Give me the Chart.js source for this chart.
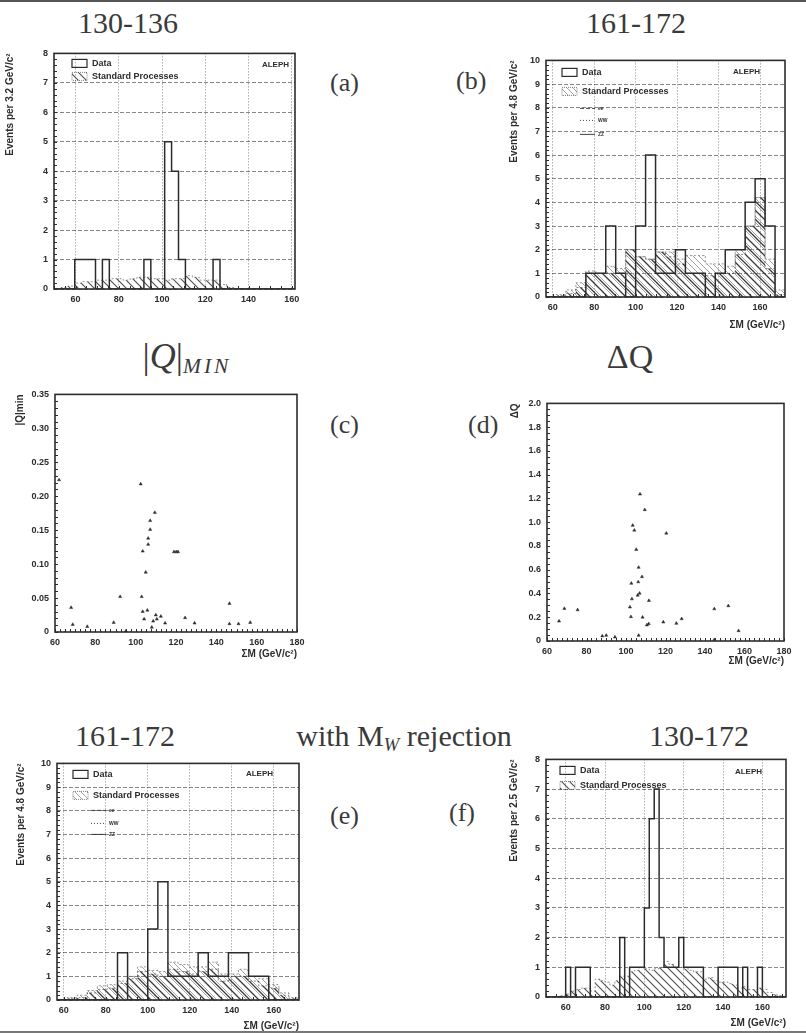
<!DOCTYPE html>
<html>
<head>
<meta charset="utf-8">
<script src="https://cdn.jsdelivr.net/npm/chart.js@4.4.0/dist/chart.umd.min.js"></script>
<style>
  body { margin: 0; width: 806px; height: 1034px; position: relative; overflow: hidden; background: #fff;
         font-family: "Liberation Serif", serif; color: #3a3a3a; }
  .t { position: absolute; font-size: 30px; line-height: 1; white-space: nowrap; transform: translateX(-50%); }
  .t i { font-style: italic; }
  .t sub { font-size: 0.62em; vertical-align: -0.25em; }
  .q { font-size: 34px; }
  .q.wide { font-size: 36px; }
  .q sub { letter-spacing: 3px; font-size: 0.6em; }
  .p { position: absolute; font-size: 26px; line-height: 1; white-space: nowrap; }
  canvas { position: absolute; }
  .rule { position: absolute; left: 0; width: 806px; background: #555; }
</style>
</head>
<body>
<div class="rule" style="top:0;height:2px"></div>
<div class="rule" style="top:1031px;height:2px;background:#777"></div>

<div class="t" style="left:128px;top:8px">130-136</div>
<div class="t" style="left:636px;top:8px">161-172</div>
<div class="t q wide" style="left:187px;top:338px">|<i>Q</i>|<sub><i>MIN</i></sub></div>
<div class="t q" style="left:630px;top:340px">ΔQ</div>
<div class="t" style="left:125px;top:721px">161-172</div>
<div class="t" style="left:404px;top:721px">with M<sub><i>W</i></sub> rejection</div>
<div class="t" style="left:699px;top:721px">130-172</div>

<div class="p" style="left:330px;top:70px">(a)</div>
<div class="p" style="left:456px;top:68px">(b)</div>
<div class="p" style="left:330px;top:412px">(c)</div>
<div class="p" style="left:468px;top:412px">(d)</div>
<div class="p" style="left:330px;top:803px">(e)</div>
<div class="p" style="left:449px;top:800px">(f)</div>

<script>
// ---------------- data ----------------
const massTicks = [60, 80, 100, 120, 140, 160];
const massTicksWide = [60, 80, 100, 120, 140, 160, 180];

// (a) 130-136 GeV, 3.2 GeV bins from 50
const binStartA = 50, binWidthA = 3.2;
const dataA = [0, 0, 0, 1, 1, 1, 0, 1, 0, 0, 0, 0, 0, 1, 0, 0, 5, 4, 1, 0, 0, 0, 0, 1, 0, 0, 0, 0, 0, 0, 0, 0, 0, 0, 0];
const smA   = [0, 0.05, 0.1, 0.2, 0.25, 0.25, 0.3, 0.3, 0.35, 0.35, 0.3, 0.35, 0.4, 0.4, 0.35, 0.35, 0.3, 0.35,
               0.35, 0.45, 0.4, 0.3, 0.3, 0.3, 0.15, 0.05, 0, 0, 0, 0, 0, 0, 0, 0, 0];
const yTicksA = [0, 1, 2, 3, 4, 5, 6, 7, 8];

// (b) 161-172 GeV, 4.8 GeV bins from 56.8
const binStartB = 56.8, binWidthB = 4.8;
const dataB = [0, 0, 0, 0, 1, 1, 3, 1, 0, 3, 6, 1, 1, 2, 1, 1, 0, 1, 2, 2, 4, 5, 3, 0];
const smB   = [0.02, 0.1, 0.3, 0.6, 1.1, 1.0, 1.3, 1.2, 2.0, 1.7, 1.6, 1.9, 1.9, 1.6, 1.75, 1.75, 1.4, 1.4,
               1.3, 2.0, 3.0, 4.2, 1.6, 0.3];
const compB = [0, 0.05, 0.15, 0.4, 1.0, 1.0, 1.0, 1.0, 2.0, 1.7, 1.6, 1.9, 1.7, 1.4, 1.0, 1.0, 0.9, 1.0,
               1.0, 1.8, 3.0, 4.2, 1.2, 0.1];
const yTicksB = [0, 1, 2, 3, 4, 5, 6, 7, 8, 9, 10];

// (c) |Q|min versus sum of masses
const qMass = [62, 102.5, 109.5, 107.2, 107.2, 106.2, 106.2, 103.5, 119, 120.1, 121, 105, 103, 92.3, 68, 68.8, 76,
               89.1, 95.1, 103.5, 105.8, 104.2, 108, 108.7, 110, 110.5, 112.5, 114.6, 124.5, 129.2, 146.5, 146.5,
               151, 156.8];
const qMin  = [0.224, 0.218, 0.176, 0.164, 0.151, 0.138, 0.129, 0.119, 0.118, 0.118, 0.118, 0.088, 0.052, 0.052,
               0.036, 0.011, 0.008, 0.014, 0.001, 0.030, 0.032, 0.019, 0.007, 0.016, 0.025, 0.019, 0.023, 0.013,
               0.021, 0.013, 0.042, 0.012, 0.012, 0.014];
const yTicksC = [0, 0.05, 0.1, 0.15, 0.2, 0.25, 0.3, 0.35];

// (d) delta Q versus sum of masses
const dqMass = [66.1, 68.8, 75.5, 88, 90, 94.4, 102, 102.7, 102.5, 103, 103.4, 104.2, 105.2, 106.4, 106.2, 105.9,
                106.9, 106.4, 107.1, 108.1, 108.4, 109.5, 110.6, 111.5, 111.6, 118.9, 120.4, 125.5, 128.2, 144.7,
                144.7, 151.8, 157];
const dqVal  = [0.167, 0.273, 0.262, 0.042, 0.047, 0.033, 0.285, 0.485, 0.204, 0.354, 0.973, 0.932, 0.77, 0.619,
                0.497, 0.385, 0.402, 0.047, 1.236, 0.541, 0.2, 1.105, 0.134, 0.145, 0.34, 0.159, 0.907, 0.148,
                0.187, 0.27, 0.011, 0.296, 0.086];
const yTicksD = [0, 0.2, 0.4, 0.6, 0.8, 1, 1.2, 1.4, 1.6, 1.8, 2];

// (e) 161-172 GeV with M_W rejection
const dataE = [0, 0, 0, 0, 0, 0, 2, 0, 0, 3, 5, 1, 1, 1, 2, 1, 1, 2, 2, 1, 1, 0, 0, 0];
const smE   = [0.02, 0.1, 0.2, 0.4, 0.6, 0.65, 0.8, 1.0, 1.4, 1.25, 1.2, 1.6, 1.5, 1.4, 1.4, 1.6, 1.1, 1.1,
               1.3, 1.0, 0.9, 0.65, 0.3, 0.1];
const compE = [0, 0.05, 0.1, 0.3, 0.45, 0.5, 0.7, 0.9, 1.2, 1.1, 1.0, 1.3, 1.2, 1.1, 1.2, 1.3, 0.8, 1.0,
               1.0, 0.8, 0.6, 0.5, 0.2, 0.05];

// (f) 130-172 GeV, 2.5 GeV bins from 50
const binStartF = 50, binWidthF = 2.5;
const dataF = [0, 0, 0, 0, 1, 0, 1, 1, 1, 0, 0, 0, 0, 0, 0, 2, 0, 1, 1, 1, 3, 6, 7, 2, 1, 1, 1, 2, 1, 1,
               1, 1, 0, 0, 0, 1, 1, 1, 1, 0, 1, 0, 0, 1, 0, 0, 0, 0, 0];
const smF   = [0, 0, 0.02, 0.05, 0.1, 0.2, 0.25, 0.3, 0.3, 0.2, 0.6, 0.55, 0.5, 0.4, 0.55, 0.7, 0.7, 0.85,
               0.9, 1.0, 0.95, 0.9, 0.95, 1.0, 1.2, 1.1, 1.0, 1.0, 0.95, 0.9, 0.85, 0.85, 0.6, 0.65, 0.55,
               0.5, 0.5, 0.45, 0.4, 0.3, 0.35, 0.25, 0.25, 0.3, 0.25, 0.15, 0.08, 0.05, 0.02];

// ---------------- drawing ----------------
const INK = '#2c2c2c';
const TICK_FONT = { family: 'Liberation Sans', size: 9, weight: 'bold' };
const TITLE_FONT = { family: 'Liberation Sans', size: 10, weight: 'bold' };
const PAD_T = 10, PAD_R = 14;

function hatch(step, color, width) {
  const c = document.createElement('canvas');
  c.width = step; c.height = step;
  const g = c.getContext('2d');
  g.strokeStyle = color; g.lineWidth = width;
  g.beginPath();
  g.moveTo(0, 0); g.lineTo(step, step);
  g.moveTo(-step / 2, step / 2); g.lineTo(step / 2, step * 1.5);
  g.moveTo(step / 2, -step / 2); g.lineTo(step * 1.5, step / 2);
  g.stroke();
  return g.createPattern(c, 'repeat');
}

// bin edges + contents -> points for a stepped outline
function histPoints(start, width, values) {
  const pts = [{ x: start, y: 0 }];
  values.forEach((v, i) => pts.push({ x: start + i * width, y: v }));
  pts.push({ x: start + values.length * width, y: 0 });
  return pts;
}

function place(area, yW, xH) {
  const c = document.createElement('canvas');
  const w = area.r - area.l + yW + PAD_R, h = area.b - area.t + PAD_T + xH;
  c.width = w; c.height = h;
  c.style.width = w + 'px'; c.style.height = h + 'px';
  c.style.left = (area.l - yW) + 'px';
  c.style.top = (area.t - PAD_T) + 'px';
  document.body.appendChild(c);
  return c;
}

function axis(min, max, ticks, size, isY, title, grid) {
  return {
    type: 'linear', min: min, max: max,
    afterBuildTicks: s => { s.ticks = ticks.map(v => ({ value: v })); },
    afterFit: s => { if (isY) s.width = size; else s.height = size; },
    ticks: { font: TICK_FONT, color: INK, padding: isY ? 6 : 5, maxRotation: 0, autoSkip: false },
    grid: grid ? { display: true, drawTicks: false, color: 'rgba(0,0,0,0.6)', lineWidth: 0.8 }
               : { display: false, drawTicks: false },
    border: { display: false, dash: grid ? (isY ? [4, 2] : [1, 2]) : [] },
    title: title ? { display: true, text: title, align: 'end', font: TITLE_FONT, color: INK,
                     padding: { top: 4, bottom: 0 } } : { display: false }
  };
}

// frame, inner ticks and the in-plot legend
const deco = {
  id: 'deco',
  afterDraw(chart, args, o) {
    const { ctx, chartArea: a, scales } = chart;
    ctx.save();
    ctx.strokeStyle = INK;
    ctx.lineWidth = 1;
    if (o.minorY) {
      for (let v = scales.y.min; v <= scales.y.max + 1e-9; v += o.minorY) {
        const py = Math.round(scales.y.getPixelForValue(v)) + 0.5;
        ctx.beginPath(); ctx.moveTo(a.left, py); ctx.lineTo(a.left + 3, py); ctx.stroke();
      }
    }
    if (o.minorX) {
      for (let v = Math.ceil(scales.x.min / o.minorX) * o.minorX; v <= scales.x.max; v += o.minorX) {
        const px = Math.round(scales.x.getPixelForValue(v)) + 0.5;
        ctx.beginPath(); ctx.moveTo(px, a.bottom); ctx.lineTo(px, a.bottom - 3); ctx.stroke();
      }
    }
    ctx.lineWidth = 1.6;
    ctx.strokeRect(a.left, a.top, a.width, a.height);

    const lg = o.legend;
    if (lg) {
      const sm = chart.data.datasets.find(d => d.label === 'Standard Processes');
      ctx.font = 'bold 9px "Liberation Sans"';
      ctx.fillStyle = INK;
      ctx.textBaseline = 'middle';
      const bx = a.left + lg.x;
      ctx.lineWidth = 1.2;
      ctx.strokeRect(bx, a.top + lg.y1 - 4, 15, 8);
      ctx.fillText('Data', bx + 20, a.top + lg.y1);
      ctx.fillStyle = sm.backgroundColor;
      ctx.fillRect(bx, a.top + lg.y2 - 4, 15, 8);
      ctx.lineWidth = 0.6; ctx.setLineDash([1, 1]);
      ctx.strokeRect(bx, a.top + lg.y2 - 4, 15, 8);
      ctx.setLineDash([]);
      ctx.fillStyle = INK;
      ctx.fillText('Standard Processes', bx + 20, a.top + lg.y2);
      if (lg.lines) {
        const names = ['ee', 'WW', 'ZZ'], dashes = [[4, 2], [1, 2], []];
        ctx.font = 'bold 5px "Liberation Sans"';
        lg.lines.forEach((ly, i) => {
          ctx.setLineDash(dashes[i]); ctx.lineWidth = 0.9;
          ctx.beginPath(); ctx.moveTo(bx + 18, a.top + ly); ctx.lineTo(bx + 33, a.top + ly); ctx.stroke();
          ctx.fillText(names[i], bx + 36, a.top + ly);
        });
        ctx.setLineDash([]);
      }
      ctx.font = 'bold 8px "Liberation Sans"';
      ctx.textAlign = 'right';
      ctx.fillText('ALEPH', a.right - lg.ax, a.top + lg.ay);
    }
    ctx.restore();
  }
};

const common = {
  responsive: false, animation: false, devicePixelRatio: 1,
  layout: { padding: { top: PAD_T, right: PAD_R, left: 0, bottom: 0 } },
  elements: { point: { radius: 0 }, line: { tension: 0 } },
  events: []
};

function histChart(area, yW, xH, p) {
  const canvas = place(area, yW, xH);
  const datasets = [{
    label: 'Data', data: histPoints(p.start, p.width, p.data), stepped: true,
    borderColor: INK, borderWidth: 1.5, fill: false
  }];
  if (p.comp) {
    datasets.push({
      label: 'ZZ', data: histPoints(p.start, p.width, p.comp), stepped: true,
      borderColor: 'rgba(60,60,60,0.8)', borderWidth: 0.8, borderDash: [2, 2],
      backgroundColor: hatch(9, '#3a3a3a', 1.3), fill: 'origin'
    });
  }
  datasets.push({
    label: 'Standard Processes', data: histPoints(p.start, p.width, p.sm), stepped: true,
    borderColor: 'rgba(90,90,90,0.8)', borderWidth: 0.8, borderDash: [2, 2],
    backgroundColor: hatch(p.comp ? 6 : 8, p.comp ? '#9a9a9a' : '#505050', p.comp ? 0.9 : 1.1), fill: 'origin'
  });
  new Chart(canvas, {
    type: 'line',
    data: { datasets: datasets },
    options: Object.assign({}, common, {
      plugins: { legend: { display: false }, tooltip: { enabled: false },
                 deco: { minorX: 5, minorY: 0.2, legend: p.legend } },
      scales: {
        x: axis(p.xmin, p.xmax, massTicks, xH, false, p.xTitle, true),
        y: axis(0, p.ymax, p.yTicks, yW, true, p.yTitle, true)
      }
    }),
    plugins: [deco]
  });
}

function scatterChart(area, yW, xH, p) {
  const canvas = place(area, yW, xH);
  new Chart(canvas, {
    type: 'scatter',
    data: { datasets: [{
      label: p.yTitle, data: p.xs.map((x, i) => ({ x: x, y: p.ys[i] })),
      pointStyle: 'triangle', pointRadius: 1.8, backgroundColor: INK, borderColor: INK, borderWidth: 0.5
    }] },
    options: Object.assign({}, common, {
      elements: { point: { radius: 1.8 } },
      plugins: { legend: { display: false }, tooltip: { enabled: false },
                 deco: { minorX: 2.5, minorY: p.minorY } },
      scales: {
        x: axis(60, 180, massTicksWide, xH, false, 'ΣM (GeV/c²)', false),
        y: axis(0, p.ymax, p.yTicks, yW, true, p.yTitle, false)
      }
    }),
    plugins: [deco]
  });
}

histChart({ l: 54, t: 52, r: 295, b: 289 }, 54, 22, {
  start: binStartA, width: binWidthA, data: dataA, sm: smA,
  xmin: 50, xmax: 161.5, ymax: 8, yTicks: yTicksA,
  yTitle: 'Events per 3.2 GeV/c²', xTitle: null,
  legend: { x: 18, y1: 10, y2: 23, ax: 6, ay: 11 }
});

histChart({ l: 546, t: 59, r: 785, b: 297 }, 42, 34, {
  start: binStartB, width: binWidthB, data: dataB, sm: smB, comp: compB,
  xmin: 56.8, xmax: 172, ymax: 10, yTicks: yTicksB,
  yTitle: 'Events per 4.8 GeV/c²', xTitle: 'ΣM (GeV/c²)',
  legend: { x: 16, y1: 12, y2: 31, lines: [48, 60, 74], ax: 25, ay: 11 }
});

scatterChart({ l: 55, t: 393, r: 297, b: 632 }, 45, 28, {
  xs: qMass, ys: qMin, ymax: 0.35, yTicks: yTicksC, yTitle: '|Q|min', minorY: 0.01
});

scatterChart({ l: 547, t: 402, r: 784, b: 641 }, 42, 26, {
  xs: dqMass, ys: dqVal, ymax: 2, yTicks: yTicksD, yTitle: 'ΔQ', minorY: 0.05
});

histChart({ l: 57, t: 762, r: 299, b: 1000 }, 46, 32, {
  start: binStartB, width: binWidthB, data: dataE, sm: smE, comp: compE,
  xmin: 56.8, xmax: 172, ymax: 10, yTicks: yTicksB,
  yTitle: 'Events per 4.8 GeV/c²', xTitle: 'ΣM (GeV/c²)',
  legend: { x: 16, y1: 11, y2: 32, lines: [47, 60, 71], ax: 26, ay: 10 }
});

histChart({ l: 546, t: 758, r: 786, b: 997 }, 42, 32, {
  start: binStartF, width: binWidthF, data: dataF, sm: smF,
  xmin: 50, xmax: 172, ymax: 8, yTicks: yTicksA,
  yTitle: 'Events per 2.5 GeV/c²', xTitle: 'ΣM (GeV/c²)',
  legend: { x: 14, y1: 11, y2: 26, ax: 24, ay: 12 }
});
</script>
</body>
</html>
